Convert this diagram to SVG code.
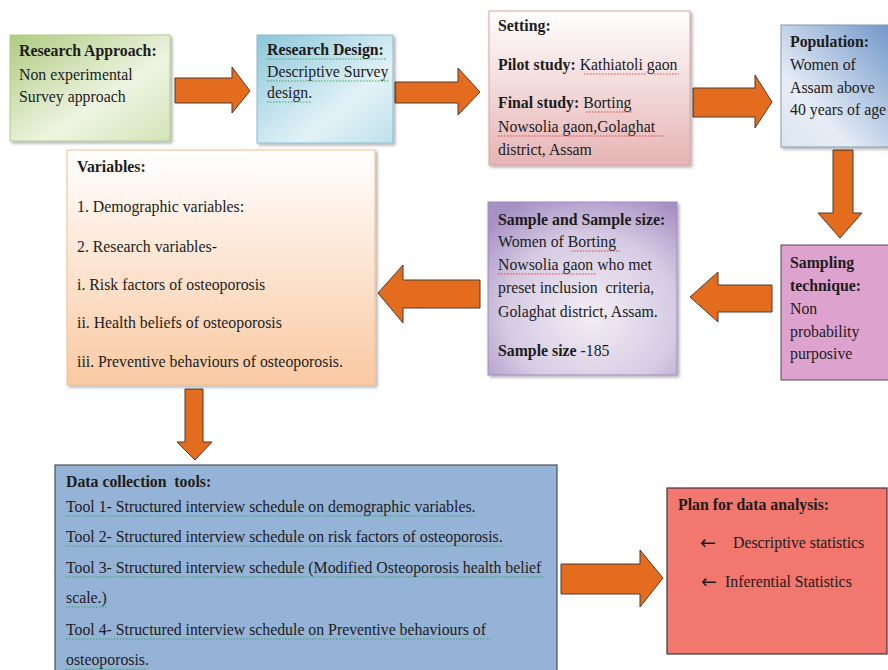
<svg xmlns="http://www.w3.org/2000/svg" width="888" height="670" viewBox="0 0 888 670">
<style>
text{font-family:"Liberation Serif","Times New Roman",serif;font-size:15.8px;fill:#1c1c1c;white-space:pre}
.b{font-weight:bold}
.ar{font-family:"DejaVu Sans",sans-serif;font-size:19px}
.arrow{fill:#E46C1F;stroke:#4d3b30;stroke-width:1}
.sq{fill:none;stroke:#3aa860;stroke-width:1;stroke-dasharray:1.5 1.5}
.sqr{fill:none;stroke:#e04040;stroke-width:1;stroke-dasharray:1.5 1.5}
</style>
<defs>
<filter id="sh" x="-5%" y="-5%" width="115%" height="115%">
<feDropShadow dx="2" dy="2" stdDeviation="1.5" flood-color="#000" flood-opacity="0.3"/>
</filter>
<linearGradient id="gGreen" x1="0" y1="0" x2="1" y2="1">
<stop offset="0" stop-color="#AECB80"/>
<stop offset="0.6" stop-color="#EEF4E2"/>
<stop offset="1" stop-color="#D3E4B8"/>
</linearGradient>
<linearGradient id="gBlue" x1="0" y1="0" x2="1" y2="1">
<stop offset="0" stop-color="#8CC7D9"/>
<stop offset="0.65" stop-color="#E2F2F7"/>
<stop offset="1" stop-color="#BFE0EA"/>
</linearGradient>
<linearGradient id="gPink" x1="0" y1="0" x2="0" y2="1">
<stop offset="0" stop-color="#FFFFFF"/>
<stop offset="1" stop-color="#E6B4B4"/>
</linearGradient>
<linearGradient id="gPop" x1="1" y1="0" x2="0" y2="1">
<stop offset="0" stop-color="#6F95C8"/>
<stop offset="0.7" stop-color="#E6EDF6"/>
<stop offset="1" stop-color="#DCE6F2"/>
</linearGradient>
<radialGradient id="gPurple" cx="0.55" cy="0.65" r="0.75">
<stop offset="0" stop-color="#F3EEF6"/>
<stop offset="0.6" stop-color="#D6CBE3"/>
<stop offset="1" stop-color="#A690C4"/>
</radialGradient>
<linearGradient id="gPeach" x1="0" y1="0" x2="0" y2="1">
<stop offset="0" stop-color="#FFFFFF"/>
<stop offset="1" stop-color="#FAC9A2"/>
</linearGradient>
</defs>
<rect width="888" height="670" fill="#ffffff"/>

<g id="connectors">
<polygon class="arrow" points="175,78 232,78 232,67 250,91 232,113 232,103 175,103"/>
<polygon class="arrow" points="395,82 458,82 458,68 480,92 458,115 458,103 395,103"/>
<polygon class="arrow" points="693,88 755,88 755,75 772,102 755,128 755,117 693,117"/>
<polygon class="arrow" points="833,150 853,150 853,213 862,213 840,238 818,213 833,213"/>
<polygon class="arrow" points="772,285 718,285 718,272 690,297 718,322 718,312 772,312"/>
<polygon class="arrow" points="480,280 403,280 403,265 378,293 403,323 403,308 480,308"/>
<polygon class="arrow" points="185,389 203,389 203,442 212,442 195,460 177,442 185,442"/>
<polygon class="arrow" points="561,564 640,564 640,550 663,578 640,607 640,594 561,594"/>
</g>

<g id="research-approach">
<rect x="10" y="35" width="160" height="106" fill="url(#gGreen)" stroke="#B3CB8E" stroke-width="1" filter="url(#sh)"/>
<text x="19" y="56" class="b">Research Approach:</text>
<text x="19" y="80">Non experimental</text>
<text x="19" y="102">Survey approach</text>
</g>

<g id="research-design">
<rect x="257" y="35" width="136" height="108" fill="url(#gBlue)" stroke="#8ABCCD" stroke-width="1" filter="url(#sh)"/>
<text x="267" y="55" class="b">Research Design:</text>
<text x="267" y="77">Descriptive Survey</text>
<text x="267" y="98">design.</text>
<path class="sq" d="M267,59 H386 M267,81 H390 M267,102 H312"/>
</g>

<g id="setting">
<rect x="489" y="11" width="201" height="154" fill="url(#gPink)" stroke="#D9A0A0" stroke-width="1" filter="url(#sh)"/>
<text x="498" y="31" class="b">Setting:</text>
<text x="498" y="70"><tspan class="b">Pilot study:</tspan> Kathiatoli gaon</text>
<text x="498" y="108"><tspan class="b">Final study:</tspan> Borting</text>
<text x="498" y="132">Nowsolia gaon,Golaghat</text>
<text x="498" y="155">district, Assam</text>
<path class="sqr" d="M584,74 H646 M651,74 H679 M586,112 H634 M498,136 H664"/>
</g>

<g id="population">
<rect x="781" y="25" width="112" height="122" fill="url(#gPop)" stroke="#8C97A8" stroke-width="1" filter="url(#sh)"/>
<text x="790" y="47" class="b">Population:</text>
<text x="790" y="70">Women of</text>
<text x="790" y="93">Assam above</text>
<text x="790" y="115">40 years of age</text>
</g>

<g id="sampling-technique">
<rect x="781" y="245" width="112" height="135" fill="#DEA2CE" stroke="#5a4652" stroke-width="1"/>
<text x="790" y="268" class="b">Sampling</text>
<text x="790" y="291" class="b">technique:</text>
<text x="790" y="314">Non</text>
<text x="790" y="337">probability</text>
<text x="790" y="359">purposive</text>
</g>

<g id="sample">
<rect x="488" y="202" width="189" height="173" fill="url(#gPurple)" stroke="#9E89BE" stroke-width="1" filter="url(#sh)"/>
<text x="498" y="225" class="b">Sample and Sample size:</text>
<text x="498" y="247">Women of Borting</text>
<text x="498" y="270">Nowsolia gaon who met</text>
<text x="498" y="293">preset inclusion  criteria,</text>
<text x="498" y="317">Golaghat district, Assam.</text>
<text x="498" y="356"><tspan class="b">Sample size</tspan> -185</text>
<path class="sqr" d="M571,251 H620 M498,274 H597"/>
</g>

<g id="variables">
<rect x="67" y="150" width="308" height="235" fill="url(#gPeach)" stroke="#F5BD8E" stroke-width="1" filter="url(#sh)"/>
<text x="77" y="172" class="b">Variables:</text>
<text x="77" y="212">1. Demographic variables:</text>
<text x="77" y="252">2. Research variables-</text>
<text x="77" y="290">i. Risk factors of osteoporosis</text>
<text x="77" y="328">ii. Health beliefs of osteoporosis</text>
<text x="77" y="367">iii. Preventive behaviours of osteoporosis.</text>
</g>

<g id="data-collection">
<rect x="55" y="465" width="502" height="215" fill="#95B3D7" stroke="#4a4e55" stroke-width="1.2"/>
<text x="66" y="487" class="b">Data collection  tools:</text>
<text x="66" y="512">Tool 1- Structured interview schedule on demographic variables.</text>
<text x="66" y="542">Tool 2- Structured interview schedule on risk factors of osteoporosis.</text>
<text x="66" y="573">Tool 3- Structured interview schedule (Modified Osteoporosis health belief</text>
<text x="66" y="603">scale.)</text>
<text x="66" y="635">Tool 4- Structured interview schedule on Preventive behaviours of</text>
<text x="66" y="665">osteoporosis.</text>
<path class="sq" d="M66,516 H475 M66,546 H503 M66,577 H545 M66,607 H107 M66,639 H492 M66,669 H148"/>
</g>

<g id="plan-analysis">
<rect x="667" y="488" width="220" height="166" fill="#F2776F" stroke="#3f3535" stroke-width="1.2"/>
<text x="678" y="510" class="b">Plan for data analysis:</text>
<text x="700" y="549" class="ar">←</text>
<text x="733" y="548">Descriptive statistics</text>
<text x="701" y="588" class="ar">←</text>
<text x="725" y="587">Inferential Statistics</text>
</g>
</svg>
